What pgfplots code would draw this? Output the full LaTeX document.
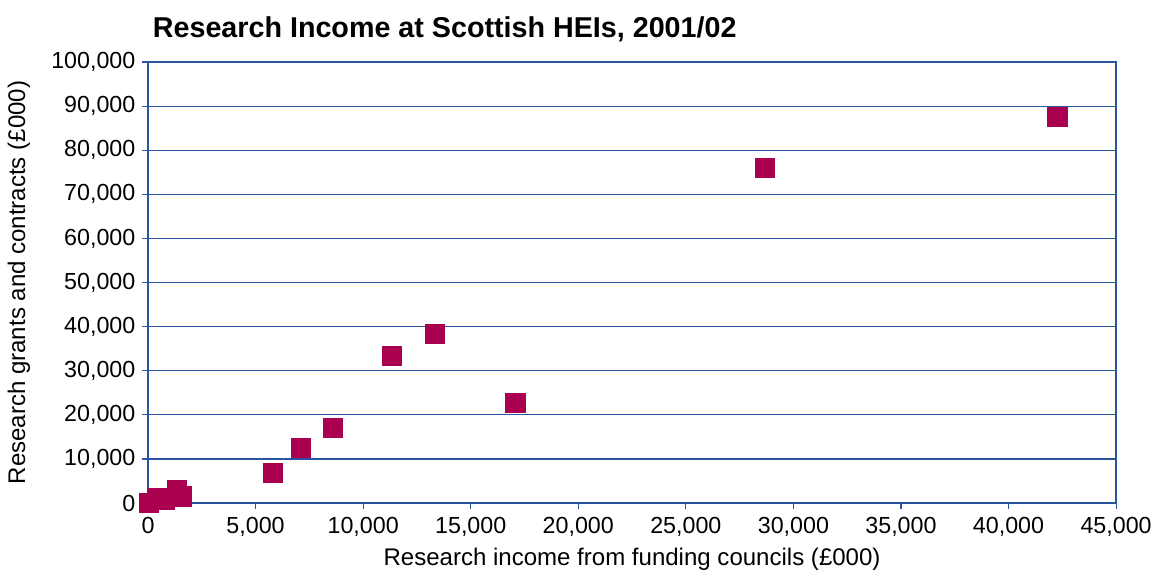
\documentclass[border=0pt]{standalone}
\usepackage{pgfplots}
\pgfplotsset{compat=1.18}
\usepackage{fontspec}
\setmainfont{Liberation Sans}
\definecolor{gridblue}{RGB}{44,84,158}
\definecolor{markcol}{RGB}{170,0,80}
\begin{document}
\begin{tikzpicture}
\path[use as bounding box] (-76.36pt,-34.57pt) rectangle (523.6pt,259.5pt);
\begin{axis}[
  at={(0,0)}, anchor=south west,
  scale only axis, width=499.4pt, height=227.5pt,
  xmin=0, xmax=45000, ymin=0, ymax=100000,
  scaled ticks=false,
  xtick={0,5000,10000,15000,20000,25000,30000,35000,40000,45000},
  xticklabels={0,{5,000},{10,000},{15,000},{20,000},{25,000},{30,000},{35,000},{40,000},{45,000}},
  ytick={0,10000,20000,30000,40000,50000,60000,70000,80000,90000,100000},
  yticklabels={0,{10,000},{20,000},{30,000},{40,000},{50,000},{60,000},{70,000},{80,000},{90,000},{100,000}},
  tick label style={font=\fontsize{12}{14}\selectfont, text=black},
  ymajorgrids, grid style={gridblue, line width=0.6pt},
  axis line style={gridblue, line width=1pt},
  tick style={gridblue, line width=0.6pt},
  tick align=outside, major tick length=3pt,
  xtick pos=bottom, ytick pos=left,
  xticklabel style={yshift=-1pt},
  xlabel={Research income from funding councils (£000)},
  ylabel={Research grants and contracts (£000)},
  label style={font=\fontsize{12.4}{14}\selectfont},
  xlabel style={yshift=1pt},
  ylabel style={yshift=4pt},
  title={Research Income at Scottish HEIs, 2001/02},
  title style={font=\fontsize{14.8}{17}\selectfont\bfseries, at={(rel axis cs:0,1)}, anchor=south west, xshift=-1pt, yshift=1pt},
  clip=false,
]
\addplot[only marks, color=markcol, mark=square*, mark size=5.1pt, mark options={fill=markcol, draw=markcol, line width=0pt}] coordinates {
(50,0) (450,1100) (750,700) (1350,2900) (1580,1400)
(5810,6800) (7110,12470) (8600,17000) (11340,33330) (13340,38320)
(17100,22680) (28680,75960) (42260,87530)
};
\end{axis}
\end{tikzpicture}
\end{document}
